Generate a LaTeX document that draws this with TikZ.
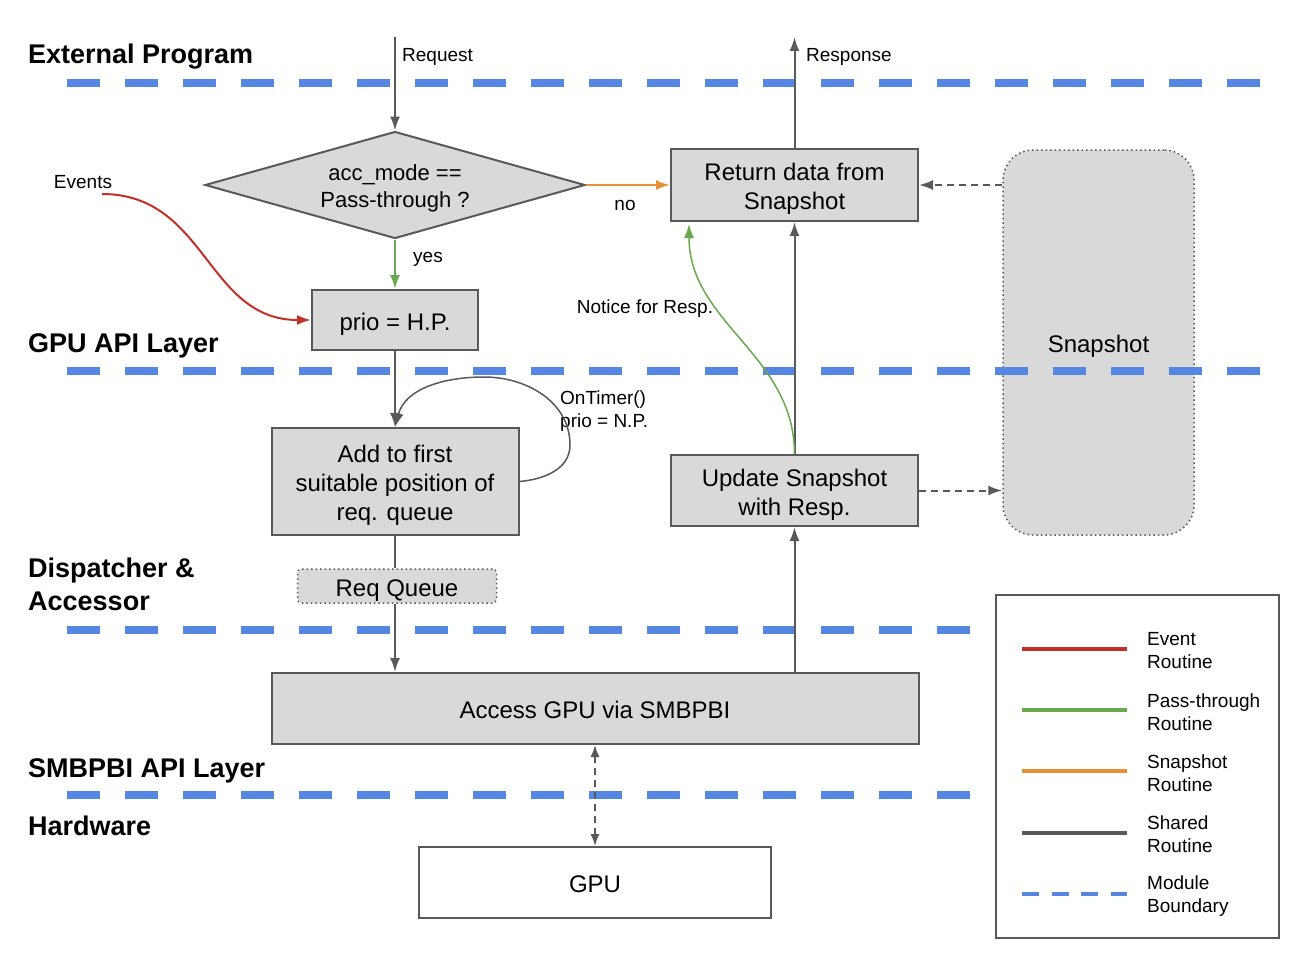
\documentclass[tikz,border=0pt]{standalone}
\usepackage{fontspec}
\setmainfont{Liberation Sans}
\usepackage{tikz}
\usetikzlibrary{arrows.meta,shapes.geometric,calc,positioning}
\definecolor{boxfill}{RGB}{217,217,217}
\definecolor{edgegray}{RGB}{89,89,89}
\definecolor{evred}{RGB}{196,48,40}
\definecolor{ptgreen}{RGB}{106,168,79}
\definecolor{snorange}{RGB}{230,145,56}
\definecolor{bndblue}{RGB}{85,134,225}
\newcommand{\boxstrut}{\rule[-5pt]{0pt}{30.2pt}}
\newcommand{\diastrut}{\rule[-5pt]{0pt}{26.8pt}}
\tikzstyle{procbox}=[rectangle,draw=edgegray,fill=boxfill,line width=2pt,align=center,inner sep=0pt,font=\fontsize{24}{29}\selectfont,execute at begin node={\boxstrut},execute at end node={\boxstrut}]
\tikzstyle{decision}=[diamond,aspect=3.5,draw=edgegray,fill=boxfill,line width=2pt,align=center,inner sep=0pt,minimum width=380,minimum height=107,font=\fontsize{22}{27}\selectfont]
\tikzstyle{dotbox}=[procbox,line width=1.5pt,dash pattern=on 1.5pt off 3pt]
\tikzstyle{layer}=[anchor=west,align=left,inner sep=0pt,font=\fontsize{27}{33}\selectfont\bfseries]
\tikzstyle{note}=[inner sep=0pt,align=left,font=\fontsize{19}{23}\selectfont]
\tikzstyle{shared}=[-{Latex[length=14pt,width=10pt]},draw=edgegray,line width=2pt]
\tikzstyle{event}=[shared,draw=evred,-{Latex[length=14pt,width=10pt,evred]}]
\tikzstyle{pass}=[shared,draw=ptgreen,-{Latex[length=14pt,width=10pt,ptgreen]}]
\tikzstyle{snaproute}=[shared,draw=snorange,-{Latex[length=14pt,width=10pt,snorange]}]
\tikzstyle{snapdash}=[shared,dash pattern=on 7pt off 5pt]
\tikzstyle{boundary}=[draw=bndblue,line width=8pt,dash pattern=on 33pt off 25pt]

\begin{document}
\begin{tikzpicture}[x=1pt,y=-1pt]
\useasboundingbox (0,0) rectangle (1294,958);
\def\colA{395}
\def\colB{794.5}
\def\boxw{247}

    % boxes of the flow
    \node[decision] (mode) at (\colA,185) {\diastrut acc\_mode ==\\Pass-through ?};
    \node[procbox, minimum width=\boxw, minimum height=72] (ret) at (\colB,185) {\boxstrut Return data from\\Snapshot};
    \node[procbox, minimum width=166, minimum height=60] (prio) at (\colA,320) {prio = H.P.};
    \node[procbox, minimum width=\boxw, minimum height=107] (add) at (\colA,481.5) {\boxstrut Add to first\\suitable position of\\req. queue};
    \node[dotbox, rounded corners=4pt, minimum width=199, minimum height=34] (queue) at (\colA+2,586) {Req Queue};
    \node[procbox, minimum width=\boxw, minimum height=71] (upd) at (\colB,490.5) {\boxstrut Update Snapshot\\with Resp.};
    \node[dotbox, rounded corners=30pt, minimum width=191, minimum height=385] (snap) at (1098.5,342.5) {Snapshot};
    \node[procbox, minimum width=647, minimum height=71] (acc) at (595,708.5) {Access GPU via SMBPBI};
    \node[procbox, fill=white, minimum width=352, minimum height=71] (gpu) at (595,882.5) {GPU};

    % module boundaries
    \foreach \y / \xend in {83/1260, 371/1260, 630/972, 795/972}
        \draw[boundary] (67,\y) -- (\xend,\y);

    \node[layer] (lext) at (28,57) {External Program};
    \node[layer] (lgpu) at (28,346) {GPU API Layer};
    \node[layer] (ldisp) at (28,584.5) {Dispatcher \&\\Accessor};
    \node[layer] (lsmb) at (28,770.5) {SMBPBI API Layer};
    \node[layer] (lhw) at (28,826) {Hardware};

    % free ends
    \coordinate (reqin) at (\colA,37);
    \coordinate (respout) at (\colB,37);
    \coordinate (evstart) at (102,194);

    \node[note, anchor=west] (lreq) at (402,57) {Request};
    \node[note, anchor=west] (lresp) at (806,57) {Response};
    \node[note] (lev) at (83,182) {Events};
    \node[note] (lno) at (625,205) {no};
    \node[note] (lyes) at (428,259) {yes};
    \node[note] (lnotice) at (645,309) {Notice for Resp.};
    \node[note, anchor=west] (ltimer) at (560,411) {OnTimer()\\prio = N.P.};

    \draw[shared] (reqin) -- (mode.north);
    \draw[shared] (ret.north) -- (respout);
    \draw[snaproute] (mode.east) -- (ret.west);
    \draw[pass] (mode.south) -- (prio.north);
    \draw[event] (evstart) to[out=0,in=180,looseness=1.1] (prio.west);
    \draw[shared] (prio.south) -- (add.north);
    \draw[shared, line width=1.5pt] (add.east) to[out=5,in=-90] (570,445) to[out=90,in=0] (484,377) to[out=180,in=75] (add.north);
    \draw[shared, -] (add.south) -- (add.south |- queue.north);
    \draw[shared] (add.south |- queue.south) -- (add.south |- acc.north);
    \draw[shared] (acc.north -| upd.south) -- (upd.south);
    \draw[shared] (upd.north) -- (ret.south);
    \draw[pass, line width=1.5pt] (upd.north) to[out=90,in=-90] ($(ret.south west)+(19,2)$);
    \draw[snapdash] (snap.west |- ret.east) -- (ret.east);
    \draw[snapdash] (upd.east) -- (upd.east -| snap.west);
    \draw[shared, {Latex[length=12pt,width=9pt]}-{Latex[length=12pt,width=9pt]}, line width=1.5pt, dash pattern=on 7pt off 5pt] (acc.south) -- (gpu.north);

    % legend
    \node[draw=edgegray, line width=1.5pt, minimum width=283, minimum height=343, inner sep=0pt] (legend) at (1137.5,766.5) {};
    \foreach \y / \col / \txta / \txtb in {650.5/evred/Event/Routine, 712/ptgreen/Pass-through/Routine, 773/snorange/Snapshot/Routine, 834.5/edgegray/Shared/Routine}
    {
        \draw[draw=\col, line width=4pt] (1022,\y-2) -- (1127,\y-2);
        \node[note, anchor=west] at (1147,\y) {\txta\\\txtb};
    }
    \draw[draw=bndblue, line width=4pt, dash pattern=on 17pt off 12.5pt] (1022,894) -- (1127,894);
    \node[note, anchor=west] at (1147,896.5) {Module\\Boundary};

\end{tikzpicture}
\end{document}
